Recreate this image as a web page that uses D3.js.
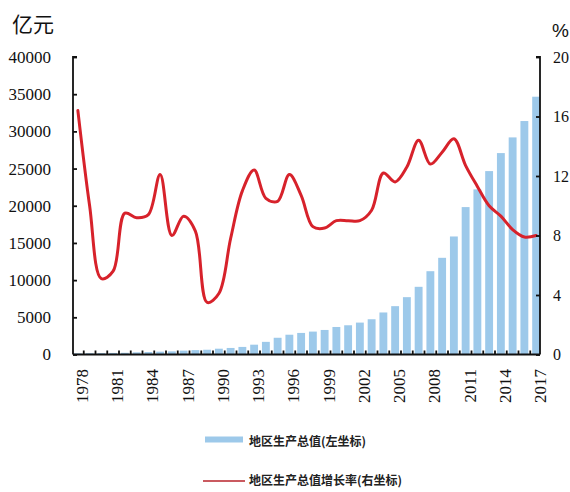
<!DOCTYPE html>
<html>
<head>
<meta charset="utf-8">
<script src="https://cdn.jsdelivr.net/npm/d3@7"></script>
<style>
html,body{margin:0;padding:0;background:#fff;}
svg{display:block;}
</style>
</head>
<body>
<svg id="chart" width="570" height="492"></svg>
<script>
const years = d3.range(1978, 2018);
const gdp = [150,180,190,210,230,290,330,380,420,520,590,640,780,880,1020,1320,1700,2250,2660,2900,
             3080,3300,3700,3930,4290,4740,5650,6500,7710,9100,11200,13000,15870,19820,22200,24660,27080,29190,31390,34660];
const growth = [16.4,10.0,5.1,5.6,9.5,9.2,9.4,12.1,8.0,9.3,8.3,3.5,4.1,7.8,11.0,12.4,10.5,10.3,12.1,10.7,
                8.6,8.5,9.0,9.0,9.0,9.7,12.2,11.6,12.6,14.4,12.8,13.6,14.5,12.7,11.3,10.0,9.3,8.4,7.9,8.0];
const leftTicks = [0,5000,10000,15000,20000,25000,30000,35000,40000];
const rightTicks = [0,4,8,12,16,20];
const yearLabels = d3.range(1978, 2018, 3);
const leftUnit = "亿元";
const rightUnit = "%";
const legendBar = "地区生产总值(左坐标)";
const legendLine = "地区生产总值增长率(右坐标)";

const svg = d3.select("#chart");
const L = 73, R = 540, T = 57, B = 354.5;
const barColor = "#9dc9ea", lineColor = "#d7222b";
const serif = "'Liberation Serif','Times New Roman',serif";
const cjk = "'Noto Sans CJK SC','Noto Sans',sans-serif";

const x = d3.scaleBand().domain(years).range([72, 542]).paddingInner(0.33).paddingOuter(0.165);
const yL = d3.scaleLinear().domain([0, 40000]).range([B, T]);
const yR = d3.scaleLinear().domain([0, 20]).range([B, T]);

// bars
svg.append("g").selectAll("rect").data(years).join("rect")
  .attr("x", d => x(d))
  .attr("width", x.bandwidth())
  .attr("y", (d,i) => yL(gdp[i]))
  .attr("height", (d,i) => B - yL(gdp[i]))
  .attr("fill", barColor);

// line
const line = d3.line()
  .x((d,i) => x(years[i]) + x.bandwidth()/2)
  .y(d => yR(d))
  .curve(d3.curveCatmullRom.alpha(0.5));
svg.append("path").datum(growth)
  .attr("d", line)
  .attr("fill", "none")
  .attr("stroke", lineColor)
  .attr("stroke-width", 3)
  .attr("stroke-linejoin", "round")
  .attr("stroke-linecap", "round");

// left axis
const leftAxis = d3.axisRight(yL).tickValues(leftTicks).tickSize(4).tickFormat("");
const gL = svg.append("g").attr("transform", `translate(${L},0)`).call(leftAxis);
gL.select(".domain").attr("d", `M4,${T}H0V${B}`);
gL.selectAll("path,line").attr("stroke", "#111").attr("stroke-width", 1.8);
svg.append("g").selectAll("text").data(leftTicks).join("text")
  .attr("x", 51).attr("y", d => yL(d)).attr("dy", "0.35em")
  .attr("text-anchor", "end")
  .attr("font-family", serif).attr("font-size", 17).attr("fill", "#111")
  .text(d => d);

// right axis
const rightAxis = d3.axisLeft(yR).tickValues(rightTicks).tickSize(4).tickFormat("");
const gR = svg.append("g").attr("transform", `translate(${R},0)`).call(rightAxis);
gR.select(".domain").attr("d", `M-4,${T}H0V${B}`);
gR.selectAll("path,line").attr("stroke", "#111").attr("stroke-width", 1.8);
svg.append("g").selectAll("text").data(rightTicks).join("text")
  .attr("x", 553).attr("y", d => yR(d)).attr("dy", "0.35em")
  .attr("text-anchor", "start")
  .attr("font-family", serif).attr("font-size", 16).attr("fill", "#111")
  .text(d => d);

// bottom axis
svg.append("line").attr("x1", L).attr("x2", R).attr("y1", B).attr("y2", B)
  .attr("stroke", "#111").attr("stroke-width", 2);
svg.append("g").selectAll("line").data(years.slice(1)).join("line")
  .attr("x1", d => x(d) - x.step()*x.paddingInner()/2)
  .attr("x2", d => x(d) - x.step()*x.paddingInner()/2)
  .attr("y1", B).attr("y2", B - 4)
  .attr("stroke", "#111").attr("stroke-width", 1.8);

svg.append("g").selectAll("text").data(yearLabels).join("text")
  .attr("transform", d => `translate(${x(d) + x.bandwidth()/2 + 4},369) rotate(-90)`)
  .attr("dy", "0.35em")
  .attr("text-anchor", "end")
  .attr("font-family", serif).attr("font-size", 17).attr("fill", "#111")
  .text(d => d);

// units
svg.append("text").attr("x", 12).attr("y", 32)
  .attr("font-family", cjk).attr("font-size", 21).attr("fill", "#111").text(leftUnit);
svg.append("text").attr("x", 552).attr("y", 37)
  .attr("font-family", "'Liberation Sans',Arial,sans-serif").attr("font-size", 19).attr("fill", "#111").text(rightUnit);

// legend
svg.append("rect").attr("x", 205).attr("y", 436.5).attr("width", 38).attr("height", 6).attr("fill", barColor);
svg.append("text").attr("x", 249).attr("y", 442).attr("dy", "0.35em")
  .attr("font-family", cjk).attr("font-size", 12).attr("font-weight", "bold").attr("fill", "#222").text(legendBar);
svg.append("line").attr("x1", 203).attr("x2", 245).attr("y1", 481).attr("y2", 481)
  .attr("stroke", "#b8232b").attr("stroke-width", 1.5);
svg.append("text").attr("x", 249).attr("y", 481).attr("dy", "0.35em")
  .attr("font-family", cjk).attr("font-size", 12).attr("font-weight", "bold").attr("fill", "#222").text(legendLine);
</script>
</body>
</html>
